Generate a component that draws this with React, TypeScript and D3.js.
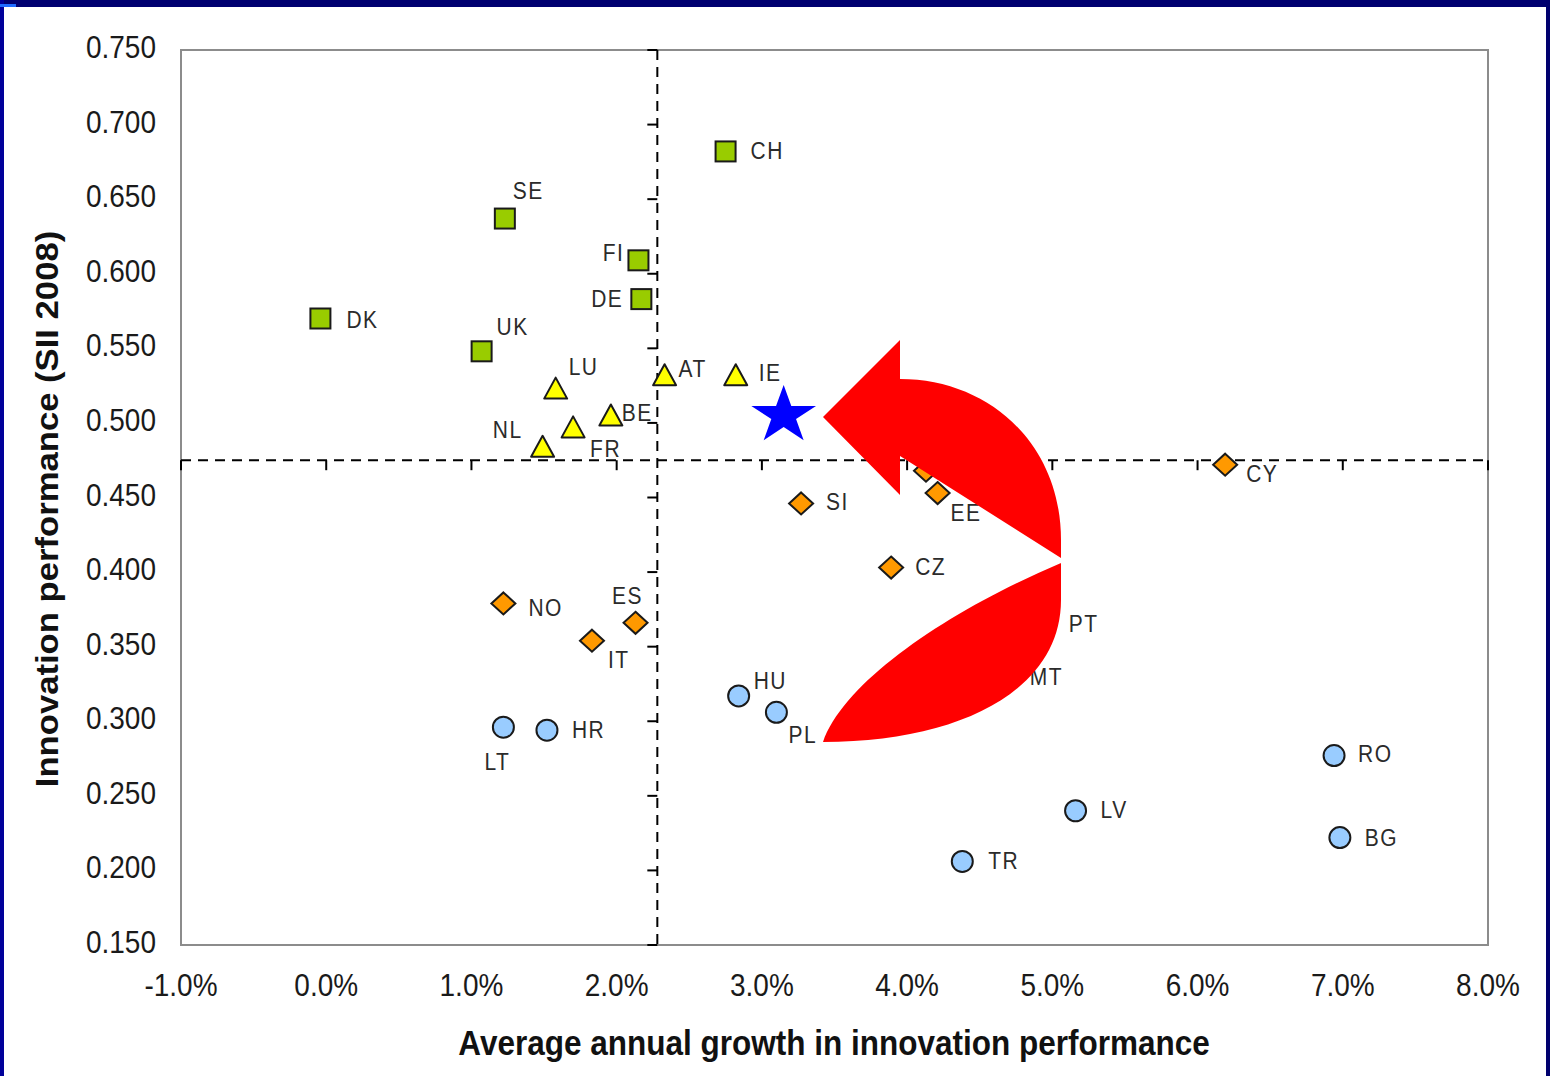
import * as d3 from 'd3';

// innovation leaders (green squares)
const leaderCodes = ['CH', 'SE', 'FI', 'DE', 'DK', 'UK'];
const leaderGrowth = [2.75, 1.23, 2.15, 2.17, -0.04, 1.07];
const leaderSII = [0.682, 0.637, 0.609, 0.583, 0.57, 0.548];

// innovation followers (yellow triangles)
const followerCodes = ['LU', 'AT', 'IE', 'BE', 'FR', 'NL'];
const followerGrowth = [1.58, 2.33, 2.82, 1.96, 1.7, 1.49];
const followerSII = [0.523, 0.532, 0.532, 0.505, 0.497, 0.484];

// moderate innovators (orange diamonds)
const moderateCodes = ['GR', 'PT', 'SI', 'EE', 'CY', 'CZ', 'NO', 'ES', 'IT'];
const moderateGrowth = [4.13, 4.92, 3.27, 4.21, 6.19, 3.89, 1.22, 2.13, 1.83];
const moderateSII = [0.468, 0.366, 0.446, 0.453, 0.472, 0.403, 0.379, 0.366, 0.354];

// catching-up countries (blue circles)
const catchingCodes = ['MT', 'HU', 'PL', 'LT', 'HR', 'RO', 'LV', 'BG', 'TR'];
const catchingGrowth = [4.68, 2.84, 3.1, 1.22, 1.52, 6.94, 5.16, 6.98, 4.38];
const catchingSII = [0.33, 0.317, 0.306, 0.296, 0.294, 0.277, 0.24, 0.222, 0.206];

// EU27 reference (dashed cross) and highlighted star
const euGrowth = 2.28;
const euSII = 0.475;
const starGrowth = 3.15;
const starSII = 0.505;

const xTicks = [-1, 0, 1, 2, 3, 4, 5, 6, 7, 8];
const yTicks = [0.15, 0.2, 0.25, 0.3, 0.35, 0.4, 0.45, 0.5, 0.55, 0.6, 0.65, 0.7, 0.75];

// where each label sits relative to its marker: dx, dy, anchor
const labelPlace: Record<string, [number, number, string]> = {
  CH: [25, 0, 'start'], SE: [8, -28, 'start'], FI: [-14, -7, 'end'], DE: [-18, 0, 'end'],
  DK: [26, 1, 'start'], UK: [15, -24, 'start'], LU: [13, -22, 'start'], AT: [14, -6, 'start'],
  IE: [23, -2, 'start'], BE: [11, -2, 'start'], NL: [-20, -17, 'end'], FR: [17, 22, 'start'],
  GR: [24, 0, 'start'], PT: [28, 1, 'start'], SI: [25, -1, 'start'], EE: [13, 20, 'start'],
  CY: [21, 9, 'start'], CZ: [24, -1, 'start'], NO: [25, 5, 'start'], ES: [-8, -27, 'middle'],
  IT: [16, 19, 'start'], MT: [24, 0, 'start'], HU: [15, -15, 'start'], PL: [12, 23, 'start'],
  LT: [-6, 35, 'middle'], HR: [25, 0, 'start'], RO: [24, -2, 'start'], LV: [25, -1, 'start'],
  BG: [25, 0, 'start'], TR: [26, 0, 'start'],
};

const W = 1550;
const H = 1076;
const plot = { left: 181, right: 1488, top: 50, bottom: 945 };

const FONT = "'Liberation Sans', Arial, sans-serif";
const STRETCH = 1.1;

export default function App() {
  const x = d3.scaleLinear().domain([-1, 8]).range([plot.left, plot.right]);
  const y = d3.scaleLinear().domain([0.15, 0.75]).range([plot.bottom, plot.top]);

  const pts = (codes: string[], gx: number[], sy: number[]) =>
    codes.map((c, i) => ({ code: c, cx: x(gx[i]), cy: y(sy[i]) }));

  const leaders = pts(leaderCodes, leaderGrowth, leaderSII);
  const followers = pts(followerCodes, followerGrowth, followerSII);
  const moderates = pts(moderateCodes, moderateGrowth, moderateSII);
  const catching = pts(catchingCodes, catchingGrowth, catchingSII);
  const all = [...leaders, ...followers, ...moderates, ...catching];

  const ex = x(euGrowth);
  const ey = y(euSII);

  const sx = x(starGrowth);
  const sy = y(starSII);
  const starPts = d3.range(10).map((i) => {
    const a = -Math.PI / 2 + (i * Math.PI) / 5;
    const r = i % 2 === 0 ? 1 : 0.382;
    return [sx + Math.cos(a) * 34 * r, sy + Math.sin(a) * 29 * r * (1 / 0.95)];
  });

  const stroke = '#1a1a1a';
  const pct = (t: number) => d3.format('.1f')(t).replace('\u2212', '-') + '%';

  return (
    <svg width={W} height={H} style={{ position: 'absolute', left: 0, top: 0, background: '#fff' }}>
      {/* slide frame */}
      <rect x={0} y={0} width={W} height={7} fill="#000070" />
      <rect x={0} y={0} width={4} height={H} fill="#00009a" />
      <rect x={W - 4} y={0} width={4} height={H} fill="#00006e" />
      <rect x={0} y={4} width={16} height={3} fill="#1e6bff" />

      {/* plot frame */}
      <rect
        x={plot.left}
        y={plot.top}
        width={plot.right - plot.left}
        height={plot.bottom - plot.top}
        fill="none"
        stroke="#8c8c8c"
        strokeWidth={2}
      />

      {/* tick labels */}
      {yTicks.map((t) => (
        <text
          key={'y' + t}
          transform={`translate(156,${y(t) + 8}) scale(1,${STRETCH})`}
          textAnchor="end"
          fontFamily={FONT}
          fontSize={28}
          fill="#1a1a1a"
        >
          {d3.format('.3f')(t)}
        </text>
      ))}
      {xTicks.map((t) => (
        <text
          key={'x' + t}
          transform={`translate(${x(t)},${996}) scale(1,${STRETCH})`}
          textAnchor="middle"
          fontFamily={FONT}
          fontSize={28}
          fill="#1a1a1a"
        >
          {pct(t)}
        </text>
      ))}

      {/* axis titles */}
      <text
        transform={`translate(834,1055) scale(1,${STRETCH})`}
        textAnchor="middle"
        fontFamily={FONT}
        fontWeight="bold"
        fontSize={31.5}
        fill="#111"
      >
        Average annual growth in innovation performance
      </text>
      <text
        transform={`translate(58,509) scale(1,${STRETCH}) rotate(-90)`}
        textAnchor="middle"
        fontFamily={FONT}
        fontWeight="bold"
        fontSize={31.5}
        fill="#111"
      >
        Innovation performance (SII 2008)
      </text>

      {/* EU reference cross with its tick marks */}
      <line x1={ex} x2={ex} y1={plot.top} y2={plot.bottom} stroke="#000" strokeWidth={2} strokeDasharray="10 7" />
      <line x1={plot.left} x2={plot.right} y1={ey} y2={ey} stroke="#000" strokeWidth={2} strokeDasharray="10 7" />
      {yTicks.map((t) => (
        <line key={'vt' + t} x1={ex - 10} x2={ex} y1={y(t)} y2={y(t)} stroke="#000" strokeWidth={2} />
      ))}
      {xTicks.map((t) => (
        <line key={'ht' + t} x1={x(t)} x2={x(t)} y1={ey} y2={ey + 10} stroke="#000" strokeWidth={2} />
      ))}

      {/* markers */}
      {leaders.map((p) => (
        <rect key={p.code} x={p.cx - 10} y={p.cy - 10} width={20} height={20} fill="#99cc00" stroke={stroke} strokeWidth={2} />
      ))}
      {followers.map((p) => (
        <path
          key={p.code}
          d={`M${p.cx},${p.cy - 11}L${p.cx + 11.5},${p.cy + 10}L${p.cx - 11.5},${p.cy + 10}Z`}
          fill="#ffff00"
          stroke={stroke}
          strokeWidth={2}
          strokeLinejoin="round"
        />
      ))}
      {moderates.map((p) => (
        <path
          key={p.code}
          d={`M${p.cx},${p.cy - 11}L${p.cx + 12},${p.cy}L${p.cx},${p.cy + 11}L${p.cx - 12},${p.cy}Z`}
          fill="#ff9900"
          stroke={stroke}
          strokeWidth={2}
        />
      ))}
      {catching.map((p) => (
        <circle key={p.code} cx={p.cx} cy={p.cy} r={10.5} fill="#99ccff" stroke={stroke} strokeWidth={2} />
      ))}

      {/* point labels */}
      {all.map((p) => {
        const [dx, dy, anchor] = labelPlace[p.code];
        return (
          <text
            key={'l' + p.code}
            transform={`translate(${p.cx + dx},${p.cy + dy + 8}) scale(1,${STRETCH})`}
            textAnchor={anchor}
            fontFamily={FONT}
            fontSize={21}
            letterSpacing={1.5}
            fill="#2b2b2b"
          >
            {p.code}
          </text>
        );
      })}

      {/* highlighted star */}
      <polygon points={starPts.map((p) => p.join(',')).join(' ')} fill="#0000ff" />

      {/* curved red arrow annotation */}
      <path
        d="M823,417 L900,340 L900,379 C990,379 1061,445 1061,540 L1061,600 C1061,690 960,742 823,742 C845,680 950,610 1061,563 L1061,558 L900,456 L900,495 Z"
        fill="#ff0000"
      />
    </svg>
  );
}
